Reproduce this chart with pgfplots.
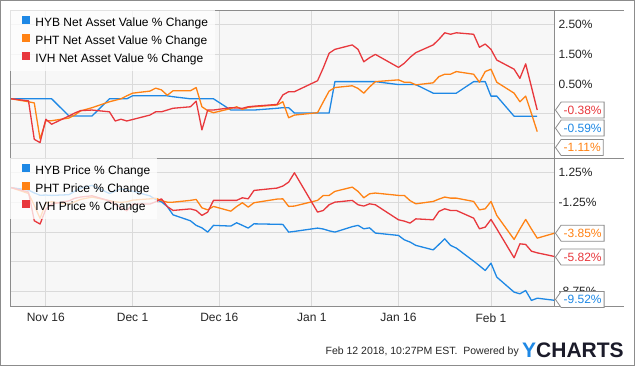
\documentclass[border=0pt]{standalone}
\usepackage{fontspec}
\setmainfont{Liberation Sans}
\usepackage{pgfplots}
\pgfplotsset{compat=1.18}
\usetikzlibrary{shapes.symbols}
\definecolor{cBlue}{HTML}{1E88E5}
\definecolor{cOrange}{HTML}{FF8214}
\definecolor{cRed}{HTML}{E8383D}
\definecolor{bgPlot}{HTML}{F7F7F7}
\definecolor{gridC}{HTML}{DADADA}
\definecolor{frameC}{HTML}{8C8C8C}
\definecolor{logoDark}{HTML}{1B1B2A}
\pgfplotsset{ychart/.style={
  scale only axis, width=544pt, height=148pt,
  xmin=-6.2, xmax=87.9,
  axis background/.style={fill=bgPlot},
  grid=major, grid style={draw=gridC, line width=0.9pt},
  axis line style={draw=frameC, line width=0.8pt},
  major tick length=0pt,
  xtick={0,15,30,46,61,77},
  ytick pos=right,
  yticklabel pos=right,
  yticklabel style={font=\fontsize{12}{12}\selectfont, text=black!85, anchor=west, xshift=1pt},
  xticklabel style={font=\fontsize{12}{12}\selectfont, text=black!85, yshift=-4pt},
  legend cell align=left,
  legend image code/.code={\path (0pt,0pt) -- (12pt,0pt); \fill[##1, fill opacity=1, draw=none] (4pt,-1pt) rectangle (12pt,7pt);},
  legend style={at={(0,1)}, anchor=north west, draw=none, draw opacity=0, fill=white, fill opacity=0.75, text opacity=1,
    font=\fontsize{12}{12}\selectfont, inner xsep=7pt, inner ysep=6pt, row sep=5pt, column sep=5pt,
    nodes={inner sep=0pt, text height=9pt, text depth=3pt}},
  every axis plot/.append style={line width=1.3pt, line join=round},
}}
\tikzset{vbox/.style={signal, signal to=west, signal pointer angle=110, draw=frameC, fill=white,
  line width=0.8pt, inner xsep=2.5pt, inner ysep=0pt, minimum height=16pt,
  font=\fontsize{12}{12}\selectfont, anchor=west, xshift=1pt}}
\begin{document}
\begin{tikzpicture}[x=1pt,y=1pt]
\fill[white] (0,0) rectangle (635,366);
% ---------------- top panel: NAV % change ----------------
\begin{axis}[ychart, at={(10pt,208pt)}, anchor=south west,
  ymin=-2, ymax=3, ytick={-1.5,-0.5,0.5,1.5,2.5},
  yticklabels={,,0.50\%,1.50\%,2.50\%}, xticklabels={,,,,,}]
\addplot[cBlue] coordinates {(-6,0) (-3,0) (-2,0) (-1,0) (0,0) (1,0) (4,-0.58) (5,-0.58) (6,-0.58) (8,-0.58)
 (11,0) (12,0) (13,0) (14,0) (15,0.1) (18,0.1) (19,0.1) (20,0.1) (21,0.1) (22,0.07) (25,0) (26,0) (27,0) (28,0) (29,0)
 (32,-0.38) (33,-0.38) (34,-0.38) (35,-0.38) (36,-0.38) (40,-0.32) (41,-0.3) (42,-0.3) (43,-0.48) (47,-0.48) (48,-0.48) (49,-0.48)
 (50,0.58) (53,0.58) (54,0.58) (55,0.58) (56,0.58) (57,0.58) (61,0.48) (62,0.48) (63,0.48) (64,0.48) (67,0.19) (68,0.19) (69,0.19)
 (70,0.19) (71,0.19) (74,0.58) (75,0.58) (76,0.58) (77,0.09) (78,0.09) (81,-0.59) (82,-0.59) (83,-0.59) (84,-0.59) (85,-0.59)};
\addlegendentry{HYB Net Asset Value \% Change}
\addplot[cOrange] coordinates {(-6,0) (-3,-0.1) (-2,-0.14) (-1,-1.36) (0,-0.74) (1,-0.74) (4,-0.65) (5,-0.55) (6,-0.41) (8,-0.3)
 (11,-0.1) (12,-0.05) (13,0) (14,0.1) (15,0.19) (18,0.26) (19,0.36) (20,0.3) (21,0.12) (22,0.27) (25,0.27) (26,0.38) (27,-0.27)
 (28,-0.4) (29,-0.47) (32,-0.33) (33,-0.27) (34,-0.36) (35,-0.29) (36,-0.27) (40,-0.21) (41,-0.1) (42,-0.64) (43,-0.55) (47,-0.47)
 (48,-0.1) (49,0.26) (50,0.38) (53,0.44) (54,0.35) (55,0.19) (56,0.4) (57,0.58) (61,0.64) (62,0.56) (63,0.56) (64,0.47) (67,0.54)
 (68,0.75) (69,0.83) (70,0.83) (71,0.92) (74,0.83) (75,0.56) (76,0.92) (77,1.0) (78,0.56) (81,0.19) (82,-0.1) (83,0.09) (84,-0.5) (85,-1.11)};
\addlegendentry{PHT Net Asset Value \% Change}
\addplot[cRed] coordinates {(-6,0) (-3,-0.07) (-2,-1.37) (-1,-1.48) (0,-0.69) (1,-0.86) (4,-0.58) (5,-0.48) (6,-0.4) (8,-0.38)
 (11,-0.44) (12,-0.75) (13,-0.69) (14,-0.75) (15,-0.7) (18,-0.55) (19,-0.44) (20,-0.44) (21,-0.38) (22,-0.32) (25,-0.27) (26,-0.08)
 (27,-1.05) (28,-0.38) (29,-0.38) (32,-0.3) (33,-0.31) (34,-0.32) (35,-0.27) (36,-0.25) (40,-0.19) (41,0.13) (42,0.24) (43,0.24)
 (47,0.61) (48,1.05) (49,1.54) (50,1.67) (53,1.82) (54,1.67) (55,1.25) (56,1.39) (57,1.5) (61,1.06) (62,1.2) (63,1.4) (64,1.56)
 (67,1.82) (68,2.01) (69,2.23) (70,2.18) (71,2.23) (74,2.18) (75,1.74) (76,1.85) (77,1.67) (78,1.31) (81,1.0) (82,0.69) (83,1.18)
 (84,0.4) (85,-0.38)};
\addlegendentry{IVH Net Asset Value \% Change}
\coordinate (t1) at (axis cs:87.9,-0.38);
\coordinate (t2) at (axis cs:87.9,-0.99);
\coordinate (t3) at (axis cs:87.9,-1.645);
\end{axis}
% ---------------- bottom panel: price % change ----------------
\begin{axis}[ychart, at={(10pt,60pt)}, anchor=south west,
  ymin=-10, ymax=2.5, ytick={-8.75,-6.25,-3.75,-1.25,1.25},
  yticklabels={-8.75\%,,,-1.25\%,1.25\%},
  xticklabels={Nov 16,Dec 1,Dec 16,Jan 1,Jan 16,Feb 1}]
\addplot[cBlue] coordinates {(-6,0) (-3,-0.21) (-2,-0.45) (-1,-0.65) (0,-0.63) (1,-0.66) (4,-0.6) (5,-0.3) (6,-0.05) (8,0.19)
 (11,-0.5) (12,-0.3) (13,-0.1) (14,-0.2) (15,-0.3) (18,-0.7) (19,-1.0) (20,-1.2) (21,-1.6) (22,-2.3) (25,-2.8) (26,-3.19) (27,-3.4)
 (28,-3.76) (29,-3.19) (32,-3.25) (33,-2.97) (34,-3.19) (35,-3.42) (36,-3.06) (40,-3.1) (41,-3.11) (42,-3.76) (43,-3.7) (47,-3.42)
 (48,-3.5) (49,-3.65) (50,-3.76) (53,-3.3) (54,-3.19) (55,-3.48) (56,-3.4) (57,-3.84) (61,-4.04) (62,-4.41) (63,-4.6) (64,-4.88)
 (67,-5.26) (68,-4.8) (69,-4.33) (70,-4.88) (71,-5.11) (74,-6.21) (75,-6.6) (76,-7.0) (77,-6.38) (78,-7.56) (81,-8.83) (82,-8.97)
 (83,-8.69) (84,-9.53) (85,-9.34) (88,-9.52)};
\addlegendentry{HYB Price \% Change}
\addplot[cOrange] coordinates {(-6,0) (-3,-0.5) (-2,-1.5) (-1,-2.6) (0,-1.3) (1,-1.2) (4,-1.4) (5,-1.2) (6,-1.0) (8,-0.8)
 (11,-1.1) (12,-1.2) (13,-1.25) (14,-1.2) (15,-1.06) (18,-0.95) (19,-0.9) (20,-1.1) (21,-1.23) (22,-1.23) (25,-1.08) (26,-1.0)
 (27,-1.71) (28,-1.88) (29,-1.59) (32,-1.99) (33,-1.6) (34,-1.28) (35,-1.65) (36,-1.28) (40,-0.97) (41,-0.95) (42,-1.59) (43,-1.56)
 (47,-1.08) (48,-0.66) (49,-0.66) (50,-0.32) (53,0.04) (54,-0.32) (55,-0.86) (56,-0.52) (57,-0.46) (61,-0.66) (62,-0.66) (63,-1.1)
 (64,-1.37) (67,-1.17) (68,-0.97) (69,-0.8) (70,-0.89) (71,-0.89) (74,-1.17) (75,-1.88) (76,-1.79) (77,-1.17) (78,-2.35) (81,-4.38)
 (82,-3.5) (83,-2.69) (84,-3.5) (85,-4.27) (88,-3.85)};
\addlegendentry{PHT Price \% Change}
\addplot[cRed] coordinates {(-6,0) (-3,-0.38) (-2,-2.8) (-1,-3.08) (0,-1.82) (1,-1.39) (4,-1.12) (5,-0.9) (6,-0.8) (8,-0.69)
 (11,-1.12) (12,-1.4) (13,-1.7) (14,-1.96) (15,-1.39) (18,-1.39) (19,-1.2) (20,-0.95) (21,-1.6) (22,-1.93) (25,-1.8) (26,-1.93)
 (27,-2.35) (28,-2.07) (29,-1.08) (32,-1.08) (33,-1.08) (34,-0.86) (35,-0.95) (36,-0.24) (40,-0.04) (41,0.13) (42,0.46) (43,1.25)
 (47,-2.07) (48,-1.93) (49,-1.45) (50,-1.23) (53,-1.08) (54,-1.45) (55,-1.56) (56,-1.37) (57,-1.45) (61,-2.72) (62,-2.83) (63,-3.0)
 (64,-2.64) (67,-2.72) (68,-2.01) (69,-1.79) (70,-1.93) (71,-1.93) (74,-2.58) (75,-3.48) (76,-3.34) (77,-2.69) (78,-3.48) (81,-5.93)
 (82,-4.75) (83,-4.8) (84,-5.37) (85,-5.51) (88,-5.82)};
\addlegendentry{IVH Price \% Change}
\coordinate (b1) at (axis cs:87.9,-3.85);
\coordinate (b2) at (axis cs:87.9,-5.87);
\coordinate (b3) at (axis cs:87.9,-9.45);
\end{axis}
% frame extensions and value boxes
\draw[frameC, line width=0.8pt] (554,356) -- (624,356) (554,208) -- (624,208) (554,60) -- (624,60);
\node[vbox, text=cRed] at (t1) {-0.38\%};
\node[vbox, text=cBlue] at (t2) {-0.59\%};
\node[vbox, text=cOrange] at (t3) {-1.11\%};
\node[vbox, text=cOrange] at (b1) {-3.85\%};
\node[vbox, text=cRed] at (b2) {-5.82\%};
\node[vbox, text=cBlue] at (b3) {-9.52\%};
% footer
\node[anchor=east, inner sep=0pt, font=\fontsize{10.5}{10.5}\selectfont, text=black!85] at (519,14) {Feb 12 2018, 10:27PM EST.\ \ Powered by};
\node[anchor=west, inner sep=0pt, font=\fontsize{21}{21}\selectfont\bfseries] at (522,16) {\textcolor{cBlue}{Y}\textcolor{logoDark}{CHARTS}};
\draw[frameC, line width=1pt] (0.5,0.5) rectangle (634.5,365.5);
\end{tikzpicture}
\end{document}
